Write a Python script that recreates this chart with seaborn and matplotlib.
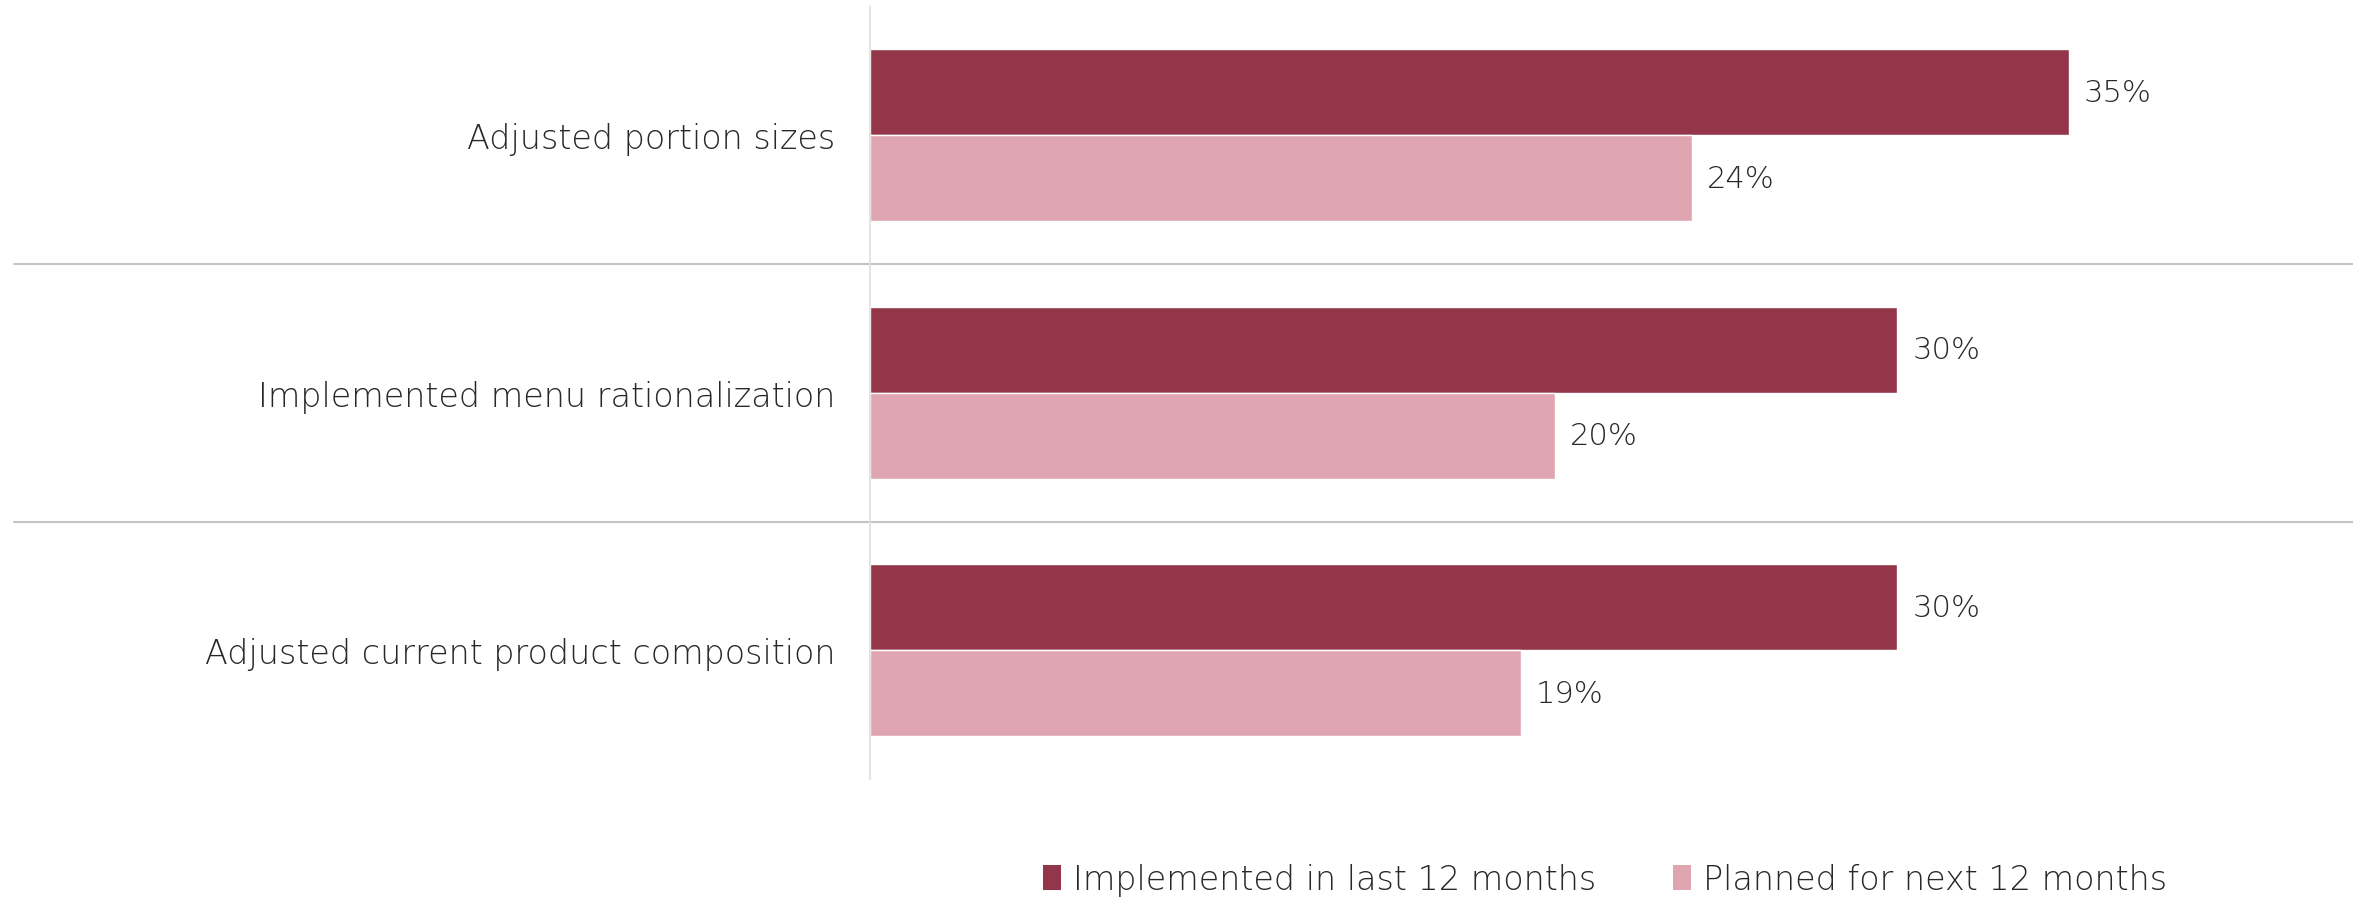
import matplotlib
matplotlib.use("Agg")
import matplotlib.pyplot as plt
from matplotlib.patches import Patch
import seaborn as sns
import pandas as pd

categories = [
    "Adjusted portion sizes",
    "Implemented menu rationalization",
    "Adjusted current product composition",
]
series_names = ["Implemented in last 12 months", "Planned for next 12 months"]
implemented = [35, 30, 30]
planned = [24, 20, 19]

colors = ["#94364A", "#DFA6B2"]
text_color = "#2B2725"

df = pd.DataFrame({
    "category": categories * 2,
    "series": [series_names[0]] * 3 + [series_names[1]] * 3,
    "value": implemented + planned,
})

sns.set_theme(style="white")
plt.rcParams["font.family"] = ["DejaVu Sans"]
plt.rcParams["font.weight"] = "light"

fig = plt.figure(figsize=(23.53, 9.03), dpi=100)
ax = fig.add_axes([0.3697, 0.1362, 0.6303, 0.8555])

sns.barplot(data=df, y="category", x="value", hue="series", order=categories,
            hue_order=series_names, palette=colors, orient="h", width=2 / 3,
            saturation=1, ax=ax, legend=False)

ax.set_xlim(0, 43.3)
ax.set_ylim(2.5, -0.5)
ax.set_xlabel("")
ax.set_ylabel("")
ax.set_xticks([])
for side in ["top", "right", "bottom"]:
    ax.spines[side].set_visible(False)
ax.spines["left"].set_color("#E2DEDB")
ax.spines["left"].set_linewidth(1.2)
ax.tick_params(axis="y", length=0, pad=25, labelsize=24, labelcolor=text_color)

for container in ax.containers:
    ax.bar_label(container, labels=[f"{v:.0f}%" for v in container.datavalues],
                 padding=11, fontsize=22, color=text_color)

# horizontal separators between category groups
for y in [0.5, 1.5]:
    ax.plot([-24.98, 43.3], [y, y], color="#C4C4C4", lw=1.5, clip_on=False)

handles = [Patch(facecolor=c, edgecolor="none") for c in colors]
fig.legend(handles, series_names, loc="center", bbox_to_anchor=(0.682, 0.025),
           ncol=2, frameon=False, fontsize=24, handlelength=0.55, handleheight=0.8,
           handletextpad=0.35, columnspacing=2.3, labelcolor=text_color)

fig.savefig("out.png", dpi=100, facecolor="white")
